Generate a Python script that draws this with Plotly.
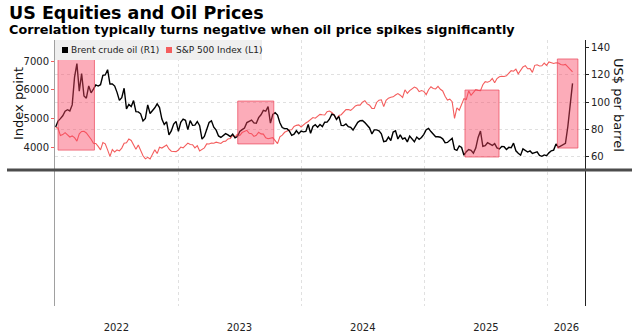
import pandas as pd
import plotly.graph_objects as go

# ---------------- data (weekly, Mondays) ----------------
brent_2022 = [81.8, 86.1, 87.9, 90.0, 93.3, 94.4, 93.5, 97.9, 118.1, 128.0, 107.9, 120.7, 104.4,
              102.8, 111.7, 106.7, 109.3, 112.4, 111.6, 112.6, 119.4, 119.7, 123.5, 113.1, 113.1,
              111.6, 107.0, 101.2, 103.2, 110.0, 94.9, 98.2, 96.7, 101.0, 93.0, 92.8, 91.4, 86.2,
              88.0, 97.9, 91.6, 93.5, 95.8, 98.6, 96.0, 87.6, 83.6, 85.6, 76.1, 79.0, 83.9, 85.9]
brent_2023 = [78.6, 85.3, 87.6, 86.7, 79.9, 86.4, 83.0, 83.2, 85.8, 82.8, 73.0, 75.0, 79.8, 85.1,
              86.3, 81.7, 79.5, 75.3, 74.2, 75.6, 77.0, 76.1, 74.8, 76.6, 73.9, 74.9, 78.5, 79.9,
              81.1, 85.0, 86.2, 86.8, 84.8, 84.5, 88.6, 90.7, 93.9, 93.3, 96.6, 84.6, 90.9, 92.2,
              90.5, 84.9, 81.4, 80.6, 80.6, 78.9, 75.8, 76.6, 79.1, 77.0]
brent_2024 = [78.8, 78.3, 78.6, 83.6, 77.3, 82.2, 83.5, 81.6, 83.6, 82.1, 85.3, 85.4, 87.5, 91.2,
              90.5, 87.3, 89.5, 83.0, 82.8, 84.0, 82.1, 81.6, 79.6, 82.6, 85.2, 86.4, 86.5, 85.0,
              82.6, 81.1, 76.8, 79.7, 79.7, 79.0, 76.9, 71.1, 71.6, 74.5, 72.0, 78.1, 79.0, 73.1,
              76.1, 73.1, 73.9, 71.0, 75.2, 72.9, 71.1, 74.5, 72.9, 74.2, 76.5]
brent_2025 = [79.8, 80.8, 78.5, 76.8, 74.7, 74.7, 74.4, 73.2, 70.4, 70.6, 72.2, 73.6, 65.6, 64.8,
              68.0, 66.9, 61.3, 63.9, 65.4, 64.8, 62.8, 66.5, 74.2, 78.9, 67.8, 68.3, 70.4, 69.3,
              68.4, 69.7, 66.6, 65.9, 67.7, 67.5, 65.5, 67.0, 66.7, 70.1, 64.5, 62.7, 61.3, 65.9,
              64.8, 63.6, 64.4, 62.6, 63.2, 63.8, 61.1, 60.5, 61.5, 61.0]
brent_2026 = [63.0, 64.5, 65.0, 69.5, 67.0, 68.0, 68.5, 70.0, 82.0, 98.0, 113.5]

spx_2022 = [4677, 4663, 4398, 4432, 4501, 4419, 4349, 4385, 4329, 4204, 4463, 4543, 4546, 4488,
            4393, 4272, 4132, 4123, 4024, 3901, 4158, 4109, 3901, 3675, 3912, 3825, 3899, 3863,
            3962, 4130, 4145, 4280, 4228, 4058, 3924, 4067, 3873, 3693, 3586, 3640, 3583, 3753,
            3901, 3771, 3993, 3965, 4026, 4071, 3934, 3852, 3845, 3840]
spx_2023 = [3895, 3999, 3973, 4071, 4136, 4090, 4079, 3970, 4046, 3862, 3917, 3971, 4109, 4105,
            4138, 4133, 4169, 4136, 4124, 4192, 4205, 4282, 4299, 4410, 4348, 4450, 4399, 4505,
            4536, 4582, 4478, 4464, 4370, 4406, 4516, 4457, 4450, 4320, 4288, 4309, 4327, 4224,
            4117, 4358, 4415, 4514, 4559, 4595, 4604, 4719, 4755, 4770]
spx_2024 = [4697, 4784, 4840, 4891, 4959, 5027, 5006, 5089, 5137, 5124, 5117, 5234, 5254, 5204,
            5123, 4967, 5100, 5128, 5223, 5303, 5305, 5278, 5347, 5432, 5465, 5460, 5567, 5615,
            5505, 5459, 5346, 5344, 5554, 5634, 5648, 5408, 5626, 5703, 5738, 5751, 5815, 5864,
            5808, 5729, 5995, 5870, 5969, 6032, 6090, 6051, 5931, 5971, 5942]
spx_2025 = [5827, 5997, 6101, 6041, 6026, 6115, 6013, 5955, 5770, 5639, 5668, 5581, 5000, 5363,
            5283, 5525, 5687, 5660, 5958, 5803, 5912, 6000, 5977, 5968, 6173, 6279, 6260, 6297,
            6389, 6238, 6389, 6450, 6467, 6460, 6482, 6584, 6664, 6644, 6716, 6553, 6664, 6792,
            6840, 6729, 6734, 6603, 6849, 6870, 6827, 6834, 6930, 6846]
spx_2026 = [6966, 6940, 6915, 6940, 6930, 6880, 6860, 6880, 6800, 6720, 6620]

# highlighted oil-spike windows (in oil price units, right axis)
hl_start = ["2022-01-10", "2023-06-27", "2025-05-01", "2026-01-30"]
hl_end = ["2022-04-28", "2023-10-12", "2025-08-10", "2026-04-01"]
hl_low = [65, 69.5, 60, 66.5]
hl_high = [132, 100.7, 108.7, 131.3]

year_starts = ["2022-01-01", "2023-01-01", "2024-01-01", "2025-01-01", "2026-01-01"]
year_label_pos = ["2022-07-02", "2023-07-02", "2024-07-02", "2025-07-02", "2026-02-26"]
year_labels = ["2022", "2023", "2024", "2025", "2026"]
left_ticks = [4000, 5000, 6000, 7000]
right_ticks = [60, 80, 100, 120, 140]
right_grid = [60, 80, 100, 120]

brent = brent_2022 + brent_2023 + brent_2024 + brent_2025 + brent_2026
spx = spx_2022 + spx_2023 + spx_2024 + spx_2025 + spx_2026
dates = pd.date_range("2022-01-03", periods=len(brent), freq="7D")

# ---------------- figure ----------------
W, H = 632, 332
ML, MR, MT, MB = 55, 47, 40, 26
PW, PH = W - ML - MR, H - MT - MB


def px(x):
    return (x - ML) / PW


def py(y):
    return (H - MB - y) / PH


FONT = "DejaVu Sans"
RED = "#f45d5d"

fig = go.Figure()
fig.add_trace(go.Scatter(x=dates, y=spx, mode="lines", name="S&P 500 Index (L1)",
                         line=dict(color=RED, width=1.1), yaxis="y", showlegend=False))
fig.add_trace(go.Scatter(x=dates, y=brent, mode="lines", name="Brent crude oil (R1)",
                         line=dict(color="#000000", width=1.4), yaxis="y2", showlegend=False))

shapes = []
for s, e, lo, hi in zip(hl_start, hl_end, hl_low, hl_high):
    shapes.append(dict(type="rect", xref="x", yref="y2", x0=s, x1=e, y0=lo, y1=hi,
                       fillcolor="rgba(248,70,100,0.45)",
                       line=dict(color="rgba(235,70,90,0.7)", width=1), layer="above"))
# thick separator line
shapes.append(dict(type="line", xref="paper", yref="paper", x0=px(7), x1=px(640),
                   y0=py(170), y1=py(170), line=dict(color="#4d4d4d", width=3), layer="above"))
# legend box
shapes.append(dict(type="rect", xref="paper", yref="paper", x0=px(55), x1=px(262),
                   y0=py(60), y1=py(40), fillcolor="#efefef", line=dict(width=0), layer="above"))
shapes.append(dict(type="rect", xref="paper", yref="paper", x0=px(62), x1=px(68),
                   y0=py(53), y1=py(47), fillcolor="#000000", line=dict(width=0), layer="above"))
shapes.append(dict(type="rect", xref="paper", yref="paper", x0=px(166), x1=px(172),
                   y0=py(53), y1=py(47), fillcolor=RED, line=dict(width=0), layer="above"))

annotations = [
    dict(text="<b>US Equities and Oil Prices</b>", xref="paper", yref="paper",
         x=px(7), y=py(13), xanchor="left", yanchor="middle", showarrow=False,
         font=dict(family=FONT, size=17.5, color="#000")),
    dict(text="<b>Correlation typically turns negative when oil price spikes significantly</b>",
         xref="paper", yref="paper", x=px(7), y=py(30), xanchor="left", yanchor="middle",
         showarrow=False, font=dict(family=FONT, size=12.8, color="#000")),
    dict(text="Brent crude oil (R1)", xref="paper", yref="paper", x=px(69), y=py(50),
         xanchor="left", yanchor="middle", showarrow=False,
         font=dict(family=FONT, size=9, color="#222")),
    dict(text="S&P 500 Index (L1)", xref="paper", yref="paper", x=px(174), y=py(50),
         xanchor="left", yanchor="middle", showarrow=False,
         font=dict(family=FONT, size=9, color="#222")),
    dict(text="Index point", xref="paper", yref="paper", x=px(18), y=py(104),
         xanchor="center", yanchor="middle", textangle=-90, showarrow=False,
         font=dict(family=FONT, size=13, color="#111")),
    dict(text="US$ per barrel", xref="paper", yref="paper", x=px(619), y=py(105),
         xanchor="center", yanchor="middle", textangle=90, showarrow=False,
         font=dict(family=FONT, size=13, color="#111")),
]

fig.update_layout(
    width=W, height=H,
    margin=dict(l=ML, r=MR, t=MT, b=MB, autoexpand=False),
    paper_bgcolor="white", plot_bgcolor="white",
    font=dict(family=FONT, size=10, color="#222"),
    showlegend=False,
    shapes=shapes,
    annotations=annotations,
    xaxis=dict(
        type="date", range=["2022-01-01", "2026-04-22"], automargin=False,
        tickvals=year_label_pos, ticktext=year_labels,
        ticks="outside", ticklen=12, tickcolor="rgba(0,0,0,0)",
        showgrid=False, zeroline=False, showline=False,
        tickfont=dict(family=FONT, size=10, color="#222"),
        minor=dict(tickvals=year_starts, showgrid=True, gridcolor="#e0e0e0",
                   griddash="dot", gridwidth=1, ticks=""),
    ),
    yaxis=dict(
        range=[-1546, 7733], tickvals=left_ticks, automargin=False,
        ticks="outside", ticklen=3, tickcolor=RED,
        showgrid=False, zeroline=False, showline=True, linecolor="#a0a0a0", linewidth=1,
        tickfont=dict(family=FONT, size=10, color="#222"),
    ),
    yaxis2=dict(
        overlaying="y", side="right", range=[-48.4, 145.1], tickvals=right_ticks,
        automargin=False,
        ticks="outside", ticklen=3, tickcolor="#222",
        showgrid=False, zeroline=False, showline=True, linecolor="#222", linewidth=1,
        tickfont=dict(family=FONT, size=10, color="#222"),
        minor=dict(tickvals=right_grid, showgrid=True, gridcolor="#e0e0e0",
                   griddash="dot", gridwidth=1, ticks=""),
    ),
)

fig.write_html("out.html")
